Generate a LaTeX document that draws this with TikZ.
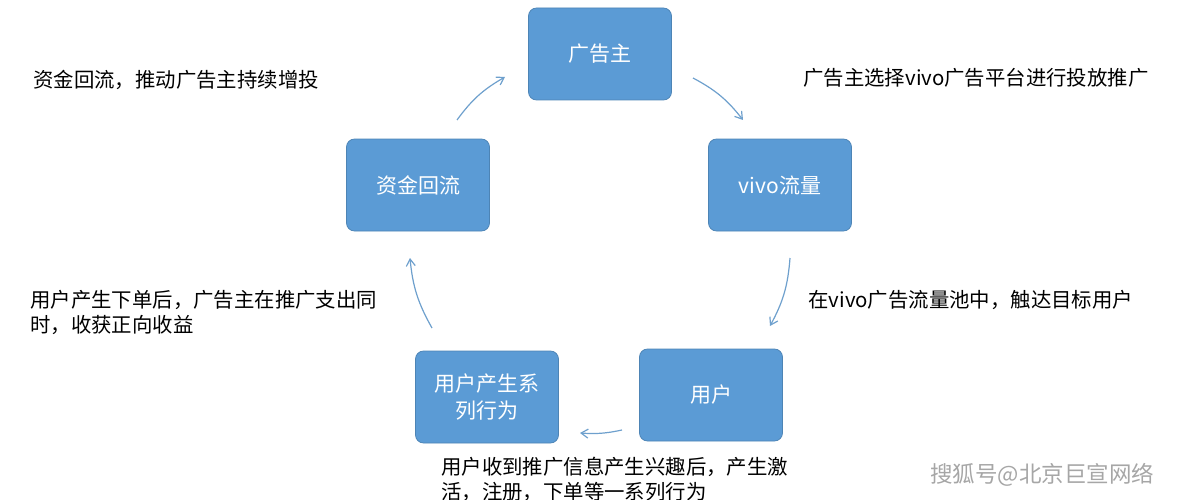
\documentclass[tikz,border=0pt]{standalone}
\usepackage{fontspec}
\setmainfont{Noto Sans CJK SC}
\usetikzlibrary{positioning,arrows.meta,calc}
\definecolor{boxblue}{RGB}{91,155,213}
\definecolor{linkblue}{RGB}{110,160,205}
\tikzset{every picture/.style={line width=0.75pt}}
\tikzset{
  stagebox/.style={draw=boxblue!85!black,fill=boxblue,rounded corners=8pt,minimum width=143pt,minimum height=92pt,text=white,font=\fontsize{21}{27}\selectfont,align=center},
  flow/.style={draw=linkblue,line width=1.2pt,-{Straight Barb[length=7pt,width=9pt]}},
  note/.style={anchor=west,font=\fontsize{20.4}{25}\selectfont,align=left,inner sep=0pt}
}
\begin{document}
\begin{tikzpicture}[x=1pt,y=-1pt]
    \useasboundingbox (0,0) rectangle (1190,500);

    % stages
    \node[stagebox] (zhu) at (600,54) {广告主};
    \node[stagebox] (vivo) at (780,185) {vivo流量};
    \node[stagebox] (yonghu) at (711,395) {用户};
    \node[stagebox] (xingwei) at (487,397) {用户产生系\\列行为};
    \node[stagebox] (huiliu) at (418,185) {资金回流};

    % links
    \draw[flow] ($(zhu)+(93,24)$) coordinate (z1) to[bend left=12] ($(vivo)+(-37,-65)$) coordinate (v1);
    \draw[flow] ($(vivo)+(10,73)$) coordinate (v2) to[bend left=12] ($(yonghu)+(59,-69)$) coordinate (y1);
    \draw[flow] ($(yonghu)+(-89,35)$) coordinate (y2) to[bend left=8] ($(xingwei)+(93,36)$) coordinate (x1);
    \draw[flow] ($(xingwei)+(-55,-69)$) coordinate (x2) to[bend left=12] ($(huiliu)+(-8,73)$) coordinate (h1);
    \draw[flow] ($(huiliu)+(39,-65)$) coordinate (h2) to[bend left=12] ($(zhu)+(-95,23)$) coordinate (z2);

    % notes
    \node[note] (n1) at (33,80) {资金回流，推动广告主持续增投};
    \node[note] (n2) at (803,78) {广告主选择vivo广告平台进行投放推广};
    \node[note] (n3) at (808,300) {在vivo广告流量池中，触达目标用户};
    \node[note] (n4) at (30,312) {用户产生下单后，广告主在推广支出同\\时，收获正向收益};
    \node[note] (n5) at (441,479) {用户收到推广信息产生兴趣后，产生激\\活，注册，下单等一系列行为};
    \node[anchor=west,text=gray!70,font=\fontsize{22.5}{26}\selectfont,inner sep=0pt] (mark) at (930,475) {搜狐号@北京巨宣网络};
\end{tikzpicture}
\end{document}
